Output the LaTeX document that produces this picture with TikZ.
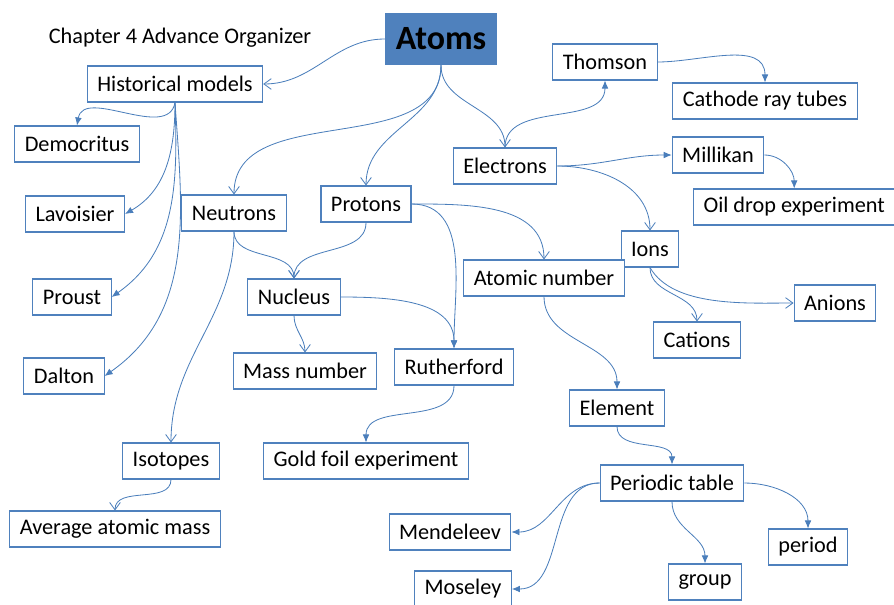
\documentclass[tikz,border=0pt]{standalone}
\usepackage{fontspec}
\setmainfont{Carlito}
\usepackage{tikz}
\usetikzlibrary{arrows.meta}
\definecolor{boxblue}{RGB}{79,129,189}
\definecolor{lineblue}{RGB}{74,126,187}

\begin{document}
\begin{tikzpicture}[x=0.03cm, y=-0.03cm,
	topic/.style={draw=boxblue, line width=0.9pt, fill=white, inner xsep=0.3cm, minimum height=1.08cm, font=\fontsize{19}{22}\selectfont},
	link/.style={draw=lineblue, line width=0.7pt},
	solidtip/.style={link, -{Latex[length=2.4mm, width=2mm]}},
	opentip/.style={link, -{Straight Barb[length=2.2mm, width=3.2mm]}}]
	\useasboundingbox (0,0) rectangle (894,604);
	\node (title) at (180,38) [font=\fontsize{19}{22}\selectfont] {Chapter 4 Advance Organizer};
	\node[fill=boxblue] (atoms) at (441,39) [minimum width=3.36cm, minimum height=1.56cm, font=\fontsize{29}{32}\selectfont\bfseries] {Atoms};
	\node (hist) at (175,84) [topic] {Historical models};
		\node (demo) at (77,144) [topic] {Democritus};
		\node (lavo) at (75,214) [topic] {Lavoisier};
		\node (prou) at (72,297) [topic] {Proust};
		\node (dalt) at (64,376) [topic] {Dalton};
	\node (neut) at (234,213) [topic] {Neutrons};
	\node (prot) at (366,204) [topic] {Protons};
		\node (nucl) at (294,297) [topic] {Nucleus};
		\node (mass) at (305,371) [topic] {Mass number};
		\node (ruth) at (454,367) [topic] {Rutherford};
		\node (gold) at (366,461) [topic] {Gold foil experiment};
		\node (isot) at (171,461) [topic] {Isotopes};
		\node (avg) at (115,529) [topic] {Average atomic mass};
	\node (elec) at (505,166) [topic] {Electrons};
		\node (thom) at (605,62) [topic] {Thomson};
		\node (cath) at (765,101) [topic] {Cathode ray tubes};
		\node (mill) at (718,155) [topic] {Millikan};
		\node[anchor=west] (oil) at (693,207) [topic] {Oil drop experiment};
		\node (ions) at (650,249) [topic] {Ions};
		\node (anio) at (835,303) [topic] {Anions};
		\node (cati) at (697,340) [topic] {Cations};
	\node (atno) at (544,278) [topic] {Atomic number};
		\node (elem) at (617,408) [topic] {Element};
		\node (peri) at (672,483) [topic] {Periodic table};
			\node (mend) at (450,532) [topic] {Mendeleev};
			\node (mose) at (463,589) [topic] {Moseley};
			\node (grp) at (705,582) [topic] {group};
			\node (perd) at (808,547) [topic] {period};
	\draw[opentip] (atoms.west) to[out=180, in=0] (hist.east);
	\draw[solidtip] (hist.south) to[out=-100, in=80] (demo.north);
	\draw[solidtip] (hist.south) to[out=-90, in=30] (lavo.east);
	\draw[solidtip] (hist.south) to[out=-88, in=35] (prou.east);
	\draw[solidtip] (hist.south) to[out=-86, in=35] (dalt.east);
	\draw[opentip] (atoms.south) to[out=-90, in=90] (neut.north);
	\draw[opentip] (atoms.south) to[out=-90, in=90] (prot.north);
	\draw[opentip] (atoms.south) to[out=-90, in=90] (elec.north);
	\draw[solidtip] (elec.north) to[out=90, in=-90] (thom.south);
	\draw[solidtip] (thom.east) to[out=0, in=90] (cath.north);
	\draw[solidtip] (elec.east) to[out=0, in=180] (mill.west);
	\draw[solidtip] (mill.east) to[out=0, in=90] (oil.north);
	\draw[opentip] (elec.east) to[out=0, in=90] (ions.north);
	\draw[opentip] (ions.south) to[out=-90, in=90] (cati.north);
	\draw[opentip] (ions.south) to[out=-60, in=180, looseness=0.8] (anio.west);
	\draw[opentip] (prot.east) to[out=0, in=90] (atno.north);
	\draw[solidtip] (prot.east) to[out=0, in=90] (ruth.north);
	\draw[opentip] (prot.south) to[out=-90, in=90] (nucl.north);
	\draw[opentip] (neut.south) to[out=-90, in=90] (nucl.north);
	\draw[solidtip] (nucl.east) to[out=0, in=90] (ruth.north);
	\draw[opentip] (nucl.south) to[out=-90, in=90] (mass.north);
	\draw[opentip] (neut.south) to[out=-90, in=90] (isot.north);
	\draw[opentip] (isot.south) to[out=-90, in=90] (avg.north);
	\draw[solidtip] (ruth.south) to[out=-90, in=90] (gold.north);
	\draw[solidtip] (atno.south) to[out=-90, in=90] (elem.north);
	\draw[solidtip] (elem.south) to[out=-90, in=90] (peri.north);
	\draw[solidtip] (peri.west) to[out=180, in=0] (mend.east);
	\draw[solidtip] (peri.west) to[out=180, in=0] (mose.east);
	\draw[solidtip] (peri.south) to[out=-90, in=90] (grp.north);
	\draw[solidtip] (peri.east) to[out=0, in=90] (perd.north);
\end{tikzpicture}
\end{document}
